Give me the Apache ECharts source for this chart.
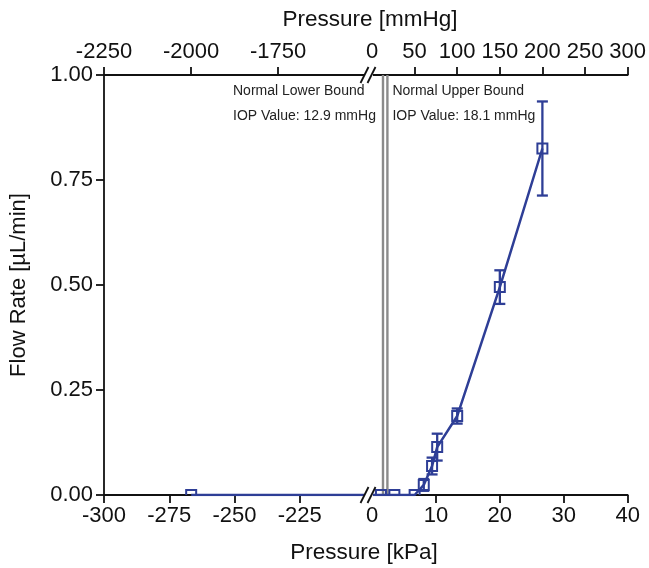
<!DOCTYPE html>
<html><head><meta charset="utf-8">
<script src="https://cdn.jsdelivr.net/npm/echarts@6/dist/echarts.min.js"></script>
<style>html,body{margin:0;padding:0;background:#fff}#c{width:649px;height:568px}</style>
</head><body><div id="c"></div>
<script>
// ---- data (pressure in kPa, flow rate in µL/min) ----
const pressureKPa = [-266.6, 1.4, 3.5, 6.67, 8.1, 9.4, 10.2, 13.33, 20.0, 26.66];
const flowRate    = [0, 0, 0, 0, 0.024, 0.069, 0.114, 0.188, 0.495, 0.825];
const flowErr     = [0, 0, 0, 0, 0.014, 0.02, 0.032, 0.018, 0.04, 0.112];
const boundsKPa   = [1.72, 2.41];
const boundText   = [['Normal Lower Bound', 'IOP Value: 12.9 mmHg'], ['Normal Upper Bound', 'IOP Value: 18.1 mmHg']];
const kPaLeftTicks   = [-300, -275, -250, -225];
const kPaRightLabels = [0, 10, 20, 30, 40];
const kPaRightTicks  = [10, 20, 30, 40];
const mmHgLeftTicks   = [-2250, -2000, -1750];
const mmHgRightLabels = [0, 50, 100, 150, 200, 250, 300];
const mmHgRightTicks  = [50, 100, 150, 200, 250, 300];

const BLUE = '#2e3e96';
const FONT = "'Liberation Sans', Arial, sans-serif";
const pts = pressureKPa.map((x, i) => [x, flowRate[i], flowErr[i]]);

function axisBase(pos, labels, ticks, margin) {
  return {
    type: 'value', position: pos,
    axisLine: { show: true, onZero: false, lineStyle: { color: '#111', width: 1.8 } },
    axisTick: { show: true, inside: false, length: 8, customValues: ticks, lineStyle: { color: '#111', width: 1.8 } },
    axisLabel: { show: true, customValues: labels, margin: margin, color: '#111', fontSize: 22, fontFamily: FONT, formatter: v => String(v) },
    splitLine: { show: false }
  };
}

const xAxes = [
  Object.assign(axisBase('bottom', kPaLeftTicks, kPaLeftTicks, 10), { gridIndex: 0, min: -300, max: -200 }),
  Object.assign(axisBase('top', mmHgLeftTicks, mmHgLeftTicks, 12), { gridIndex: 0, min: -2250, max: -1500.1 }),
  Object.assign(axisBase('bottom', kPaRightLabels, kPaRightTicks, 10), { gridIndex: 1, min: 0, max: 40 }),
  Object.assign(axisBase('top', mmHgRightLabels, mmHgRightTicks, 12), { gridIndex: 1, min: 0, max: 300 })
];

const yAxes = [
  {
    type: 'value', gridIndex: 0, min: 0, max: 1, interval: 0.25,
    name: 'Flow Rate [µL/min]', nameLocation: 'middle', nameGap: 74, nameRotate: 90,
    nameTextStyle: { fontSize: 22, fontFamily: FONT, color: '#111' },
    axisLine: { show: true, lineStyle: { color: '#111', width: 1.8 } },
    axisTick: { show: true, length: 8, lineStyle: { color: '#111', width: 1.8 } },
    axisLabel: { margin: 11, color: '#111', fontSize: 22, fontFamily: FONT, formatter: v => v.toFixed(2) },
    splitLine: { show: false }
  },
  { type: 'value', gridIndex: 1, min: 0, max: 1, interval: 0.25, show: false, splitLine: { show: false } }
];

function renderPoint(params, api) {
  const x = api.value(0), y = api.value(1), e = api.value(2);
  const p = api.coord([x, y]);
  const st = { stroke: BLUE, lineWidth: 2.3, fill: null };
  const ch = [];
  if (e > 0) {
    const t = api.coord([x, y + e]), b = api.coord([x, y - e]);
    ch.push({ type: 'line', shape: { x1: p[0], y1: t[1], x2: p[0], y2: b[1] }, style: st });
    ch.push({ type: 'line', shape: { x1: p[0] - 5.5, y1: t[1], x2: p[0] + 5.5, y2: t[1] }, style: st });
    ch.push({ type: 'line', shape: { x1: p[0] - 5.5, y1: b[1], x2: p[0] + 5.5, y2: b[1] }, style: st });
  }
  ch.push({ type: 'rect', shape: { x: p[0] - 5, y: p[1] - 5, width: 10, height: 10 }, style: { stroke: BLUE, lineWidth: 2, fill: null } });
  return { type: 'group', children: ch };
}

function renderBound(params, api) {
  const x = api.value(0);
  const t = api.coord([x, 1]), b = api.coord([x, 0]);
  return { type: 'line', shape: { x1: t[0], y1: t[1], x2: b[0], y2: b[1] }, style: { stroke: '#8a8a8a', lineWidth: 2.4 } };
}

const series = [];
[0, 1].forEach(gi => {
  series.push({
    type: 'line', xAxisIndex: gi * 2, yAxisIndex: gi, data: pts.map(d => [d[0], d[1]]),
    showSymbol: false, clip: true, lineStyle: { color: BLUE, width: 2.5 }, silent: true, animation: false, z: 3
  });
  series.push({
    type: 'custom', xAxisIndex: gi * 2, yAxisIndex: gi, data: pts, renderItem: renderPoint,
    clip: true, silent: true, animation: false, z: 4
  });
});
series.push({
  type: 'custom', xAxisIndex: 2, yAxisIndex: 1, data: boundsKPa.map(v => [v]), renderItem: renderBound,
  clip: false, silent: true, animation: false, z: 2
});

const chart = echarts.init(document.getElementById('c'));
chart.setOption({
  animation: false,
  backgroundColor: '#fff',
  grid: [
    { left: 104, top: 75, width: 261, height: 420 },
    { left: 372, top: 75, width: 258, height: 420 }
  ],
  xAxis: xAxes,
  yAxis: yAxes,
  series: series
});

// decorations: axis breaks, annotation text, axis titles
const leftEnd = chart.convertToPixel({ gridIndex: 0 }, [-200, 0]);
const leftTop = chart.convertToPixel({ gridIndex: 0 }, [-200, 1]);
const rightStart = chart.convertToPixel({ gridIndex: 1 }, [0, 0]);
const bx = (leftEnd[0] + rightStart[0]) / 2;
const g = [];
[leftEnd[1], leftTop[1]].forEach(yy => {
  g.push({ type: 'rect', shape: { x: leftEnd[0] - 1, y: yy - 3, width: rightStart[0] - leftEnd[0] + 2, height: 6 }, style: { fill: '#fff' }, z: 100 });
  [-4, 3].forEach(dx => {
    g.push({ type: 'line', shape: { x1: bx + dx - 4, y1: yy + 8, x2: bx + dx + 4, y2: yy - 8 }, style: { stroke: '#111', lineWidth: 1.8 }, z: 101 });
  });
});
const lo = chart.convertToPixel({ gridIndex: 1 }, [boundsKPa[0], 1]);
const up = chart.convertToPixel({ gridIndex: 1 }, [boundsKPa[1], 1]);
boundText[0].forEach((t, i) => g.push({ type: 'text', x: 233, y: lo[1] + 16 + i * 25, style: { text: t, fill: '#222', font: '14px ' + FONT, textAlign: 'left', textVerticalAlign: 'middle' }, z: 50 }));
boundText[1].forEach((t, i) => g.push({ type: 'text', x: up[0] + 5, y: up[1] + 16 + i * 25, style: { text: t, fill: '#222', font: '14px ' + FONT, textAlign: 'left', textVerticalAlign: 'middle' }, z: 50 }));
g.push({ type: 'text', x: 370, y: 20, style: { text: 'Pressure [mmHg]', fill: '#111', font: '22.5px ' + FONT, textAlign: 'center', textVerticalAlign: 'middle' } });
g.push({ type: 'text', x: 364, y: 553, style: { text: 'Pressure [kPa]', fill: '#111', font: '22.5px ' + FONT, textAlign: 'center', textVerticalAlign: 'middle' } });
chart.setOption({ graphic: g });
</script>
</body></html>
